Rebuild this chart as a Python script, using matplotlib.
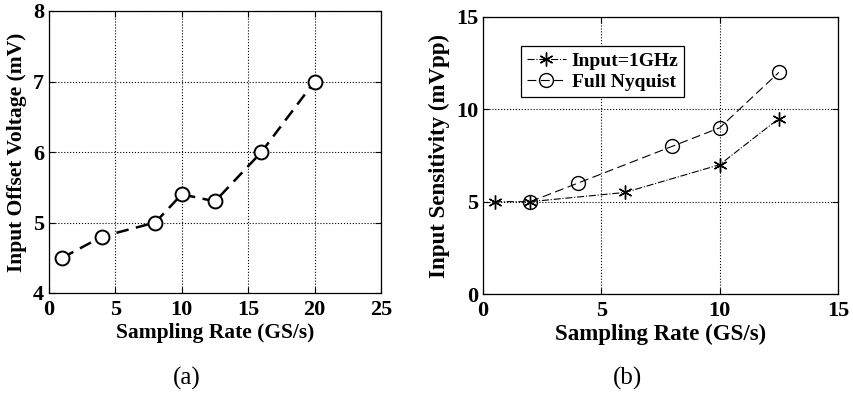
import numpy as np
import matplotlib.pyplot as plt

plt.rcParams['font.family'] = ['Liberation Serif', 'DejaVu Serif']
plt.rcParams['font.weight'] = 'bold'

# (a) input offset voltage
rate_a = [1, 4, 8, 10, 12.5, 16, 20]
offset_mv = [4.5, 4.8, 5.0, 5.4, 5.3, 6.0, 7.0]

# (b) input sensitivity
rate_1g = [0.5, 2, 6, 10, 12.5]
sens_1g = [5, 5, 5.5, 7, 9.5]
rate_nyq = [2, 4, 8, 10, 12.5]
sens_nyq = [5, 6, 8, 9, 12]

fig = plt.figure(figsize=(8.54, 3.94), dpi=100)
ax1 = fig.add_axes([49/854, 101/394, 332/854, 282/394])
ax2 = fig.add_axes([483/854, 100/394, 355/854, 277/394])


def style(ax):
    ax.grid(True, linestyle=':', color='black', linewidth=0.8)
    ax.tick_params(direction='in', top=True, right=True, labelsize=16, length=4)
    ax.tick_params(axis='x', pad=5)
    for lab in ax.get_xticklabels() + ax.get_yticklabels():
        lab.set_fontweight('bold')
    for s in ax.spines.values():
        s.set_linewidth(0.9)


ax1.plot(rate_a, offset_mv, color='black', linestyle=(0, (5, 3)), linewidth=1.8,
         marker='o', markersize=10, markerfacecolor='white', markeredgewidth=1.4)
ax1.set_xlim(0, 25)
ax1.set_ylim(4, 8)
ax1.set_xticks(np.arange(0, 26, 5))
ax1.set_yticks(np.arange(4, 9, 1))
ax1.set_xlabel('Sampling Rate (GS/s)', fontsize=15.5, fontweight='bold', labelpad=2)
ax1.set_ylabel('Input Offset Voltage (mV)', fontsize=15.5, fontweight='bold', labelpad=4)
style(ax1)

ax2.plot(rate_1g, sens_1g, color='black', linestyle='-.', linewidth=0.8,
         marker=(6, 2, 0), markersize=10, markeredgewidth=1.0, label='Input=1GHz')
ax2.plot(rate_nyq, sens_nyq, color='black', linestyle=(0, (8, 4)), linewidth=0.8,
         marker='o', markersize=10, markerfacecolor='none', markeredgewidth=1.0,
         label='Full Nyquist')
ax2.set_xlim(0, 15)
ax2.set_ylim(0, 15)
ax2.set_xticks([0, 5, 10, 15])
ax2.set_yticks([0, 5, 10, 15])
ax2.set_xlabel('Sampling Rate (GS/s)', fontsize=16.5, fontweight='bold', labelpad=2)
ax2.set_ylabel('Input Sensitivity (mVpp)', fontsize=16.5, fontweight='bold', labelpad=4)
style(ax2)
leg = ax2.legend(loc='upper left', bbox_to_anchor=(0.08, 0.93), fontsize=14,
                 fancybox=False, edgecolor='black', framealpha=1,
                 handlelength=2.0, handletextpad=0.3, borderpad=0.3,
                 labelspacing=0.2)
leg.get_frame().set_linewidth(0.9)

fig.text(187/854, 1 - 378/394, '(a)', ha='center', va='center', fontsize=18,
         fontweight='normal')
fig.text(628/854, 1 - 378/394, '(b)', ha='center', va='center', fontsize=18,
         fontweight='normal')

fig.savefig('out.png', dpi=100)
